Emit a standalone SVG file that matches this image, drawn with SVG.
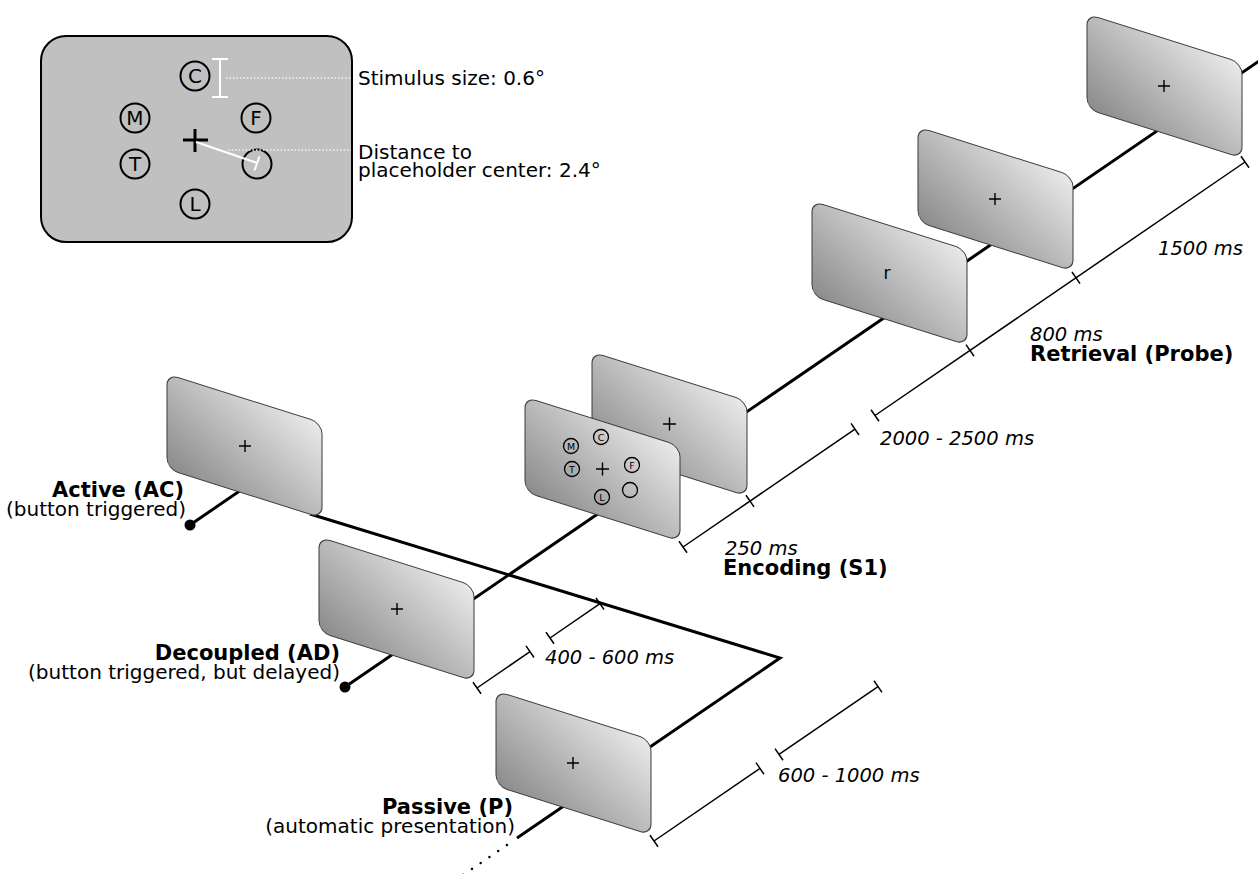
<svg xmlns="http://www.w3.org/2000/svg" xmlns:xlink="http://www.w3.org/1999/xlink" width="1258" height="874" viewBox="0 0 1258 874">
<style>
text{font-family:"DejaVu Sans","Liberation Sans",sans-serif;fill:#000}
.n{font-size:20px}
.b{font-size:21px;font-weight:bold}
.i{font-size:19.5px;font-style:italic}
.tl{stroke:#000;stroke-width:3;fill:none}
.br{stroke:#000;stroke-width:1.5;fill:none}
.cr{stroke:#000;stroke-width:1.4;fill:none}
.lt{font-size:20px;text-anchor:middle}
.sl{font-size:9.5px;text-anchor:middle}
</style>
<defs>
<linearGradient id="g" x1="0" y1="1" x2="1" y2="0">
<stop offset="0" stop-color="#8a8a8a"/>
<stop offset="1" stop-color="#ebebeb"/>
</linearGradient>
<rect id="scr" width="155" height="95" rx="11" ry="11" transform="skewY(17.55)" fill="url(#g)" stroke="#3a3a3a" stroke-width="1"/>
</defs>

<g id="inset">
<rect x="41" y="36" width="311" height="206" rx="25" ry="25" fill="#c0c0c0" stroke="#000" stroke-width="2"/>
<g fill="none" stroke="#000" stroke-width="2">
<circle cx="195" cy="76" r="14.5"/>
<circle cx="135" cy="118" r="14.5"/>
<circle cx="256" cy="118" r="14.5"/>
<circle cx="135" cy="164" r="14.5"/>
<circle cx="195" cy="204" r="14.5"/>
<circle cx="257" cy="164" r="14.5"/>
</g>
<text class="lt" x="195" y="83">C</text>
<text class="lt" x="135" y="125">M</text>
<text class="lt" x="256" y="125">F</text>
<text class="lt" x="135" y="171">T</text>
<text class="lt" x="195" y="211">L</text>
<path d="M183 140H208M195 129V152" stroke="#000" stroke-width="3"/>
<path d="M196 142L257 163M259.5 156.5L254.5 170.5" stroke="#fff" stroke-width="2"/>
<path d="M220 59V97M212 59H228M212 97H228" stroke="#fff" stroke-width="2"/>
<path d="M226 78H351M228 150H351" stroke="#f2f2f2" stroke-width="1.5" stroke-dasharray="1.5 2"/>
<text class="n" x="358" y="85">Stimulus size: 0.6°</text>
<text class="n" x="358" y="159">Distance to</text>
<text class="n" x="358" y="177">placeholder center: 2.4°</text>
</g>

<g id="connectors">
<line class="tl" x1="345" y1="687" x2="1262" y2="59"/>
<line class="tl" x1="190" y1="525" x2="260" y2="477"/>
<polyline class="tl" points="310,514 780,658 517,838" stroke-linejoin="miter"/>
<line x1="507" y1="845" x2="463" y2="875" stroke="#000" stroke-width="2.4" stroke-linecap="round" stroke-dasharray="0.1 10.5"/>
<circle cx="190" cy="525" r="5.5" fill="#000"/>
<circle cx="345" cy="687" r="5.5" fill="#000"/>
</g>

<g id="brackets" class="br">
<path d="M477 688L530 651.7M473 682.2L481 693.8M526 645.9L534 657.5"/>
<path d="M550 638L600 603.7M546 632.2L554 643.8M596 597.9L604 609.5"/>
<path d="M654 841L760 768.4M650 835.2L658 846.8M756 762.6L764 774.2"/>
<path d="M779 754.4L878 686.6M775 748.6L783 760.2M874 680.8L882 692.4"/>
<path d="M683 547L855 429.2M679 541.2L687 552.8M746 495.3L754 506.9M851 423.4L859 435"/>
<path d="M875 415.5L1245 162M871 409.7L879 421.3M966 344.6L974 356.2M1072 272L1080 283.6M1241 156.2L1249 167.8"/>
</g>

<g id="screen-top">
<use xlink:href="#scr" x="1087" y="14"/>
<path class="cr" d="M1158 86H1170M1164 80V92"/>
</g>
<g id="screen-fix2">
<use xlink:href="#scr" x="918" y="127"/>
<path class="cr" d="M989 199H1001M995 193V205"/>
</g>
<g id="screen-probe">
<use xlink:href="#scr" x="812" y="201"/>
<text x="887" y="279" font-size="17" text-anchor="middle">r</text>
</g>
<g id="screen-enc-back">
<use xlink:href="#scr" x="592" y="352"/>
<path class="cr" d="M663 424H676M669.5 417.5V430.5" stroke-width="1.8"/>
</g>
<g id="screen-enc-front">
<use xlink:href="#scr" x="525" y="397"/>
<path class="cr" d="M596 469H609M602.5 462.5V475.5" stroke-width="1.8"/>
<g fill="none" stroke="#000" stroke-width="1.3">
<circle cx="601" cy="437" r="7.5"/>
<circle cx="571" cy="446" r="7.5"/>
<circle cx="632" cy="465" r="7.5"/>
<circle cx="572" cy="469" r="7.5"/>
<circle cx="602" cy="497" r="7.5"/>
<circle cx="630" cy="490" r="7.5"/>
</g>
<text class="sl" x="601" y="440.5">C</text>
<text class="sl" x="571" y="449.5">M</text>
<text class="sl" x="632" y="468.5">F</text>
<text class="sl" x="572" y="472.5">T</text>
<text class="sl" x="602" y="500.5">L</text>
</g>
<g id="screen-active">
<use xlink:href="#scr" x="167" y="374"/>
<path class="cr" d="M239 446H251M245 440V452"/>
</g>
<g id="screen-decoupled">
<use xlink:href="#scr" x="319" y="537"/>
<path class="cr" d="M391 609H403M397 603V615"/>
</g>
<g id="screen-passive">
<use xlink:href="#scr" x="496" y="691"/>
<path class="cr" d="M567 763H579M573 757V769"/>
</g>

<g id="labels">
<text class="b" x="184" y="497" text-anchor="end">Active (AC)</text>
<text class="n" x="186" y="516" text-anchor="end">(button triggered)</text>
<text class="b" x="340" y="660" text-anchor="end">Decoupled (AD)</text>
<text class="n" x="340" y="679" text-anchor="end">(button triggered, but delayed)</text>
<text class="b" x="513" y="814" text-anchor="end">Passive (P)</text>
<text class="n" x="515" y="833" text-anchor="end">(automatic presentation)</text>
<text class="i" x="545" y="664">400 - 600 ms</text>
<text class="i" x="778" y="782">600 - 1000 ms</text>
<text class="i" x="725" y="555">250 ms</text>
<text class="b" x="723" y="575">Encoding (S1)</text>
<text class="i" x="880" y="445">2000 - 2500 ms</text>
<text class="i" x="1030" y="341">800 ms</text>
<text class="b" x="1030" y="361">Retrieval (Probe)</text>
<text class="i" x="1243" y="255" text-anchor="end">1500 ms</text>
</g>
</svg>
